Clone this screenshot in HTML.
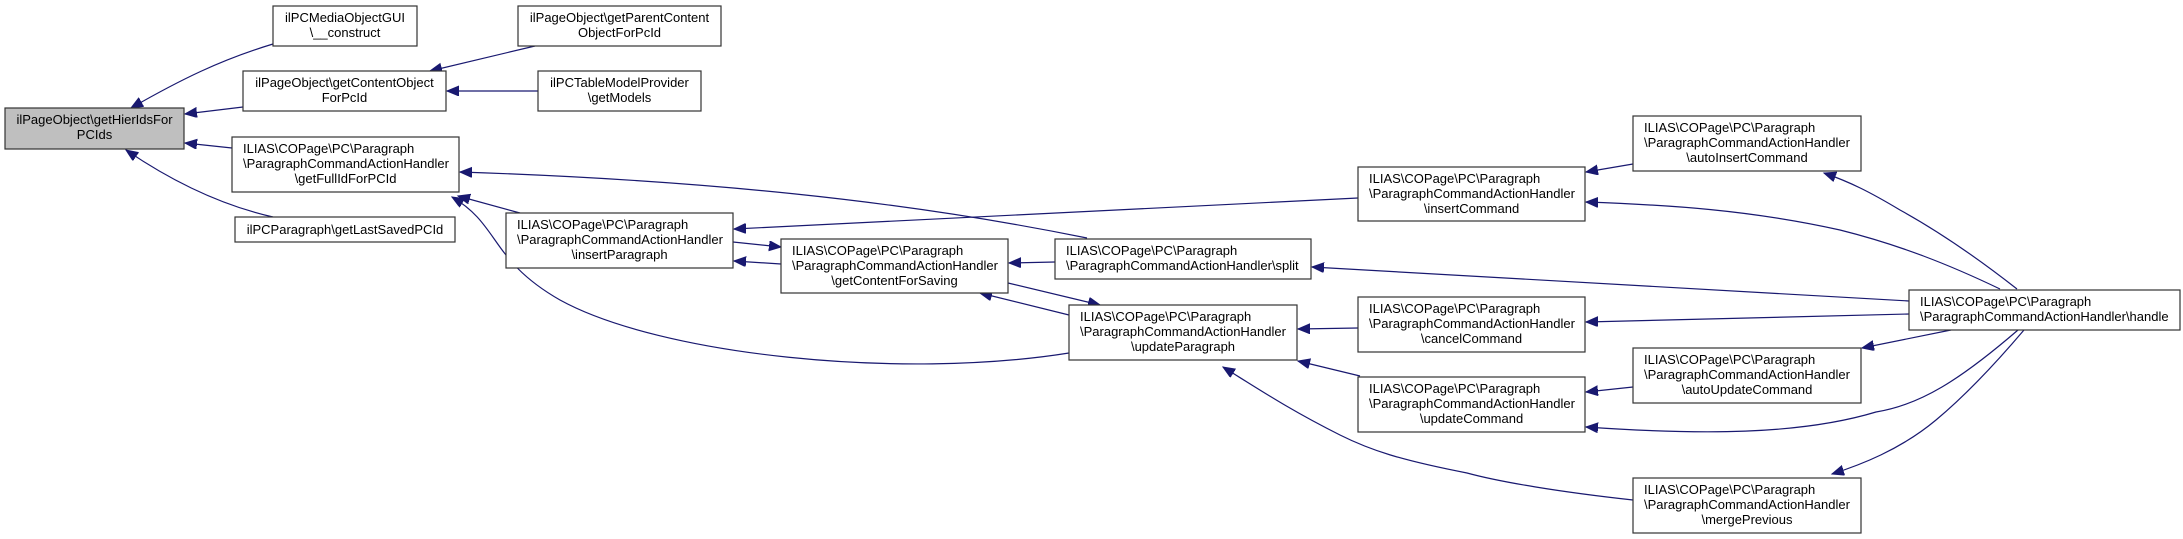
<!DOCTYPE html>
<html><head><meta charset="utf-8"><style>
html,body{margin:0;padding:0;background:#fff;}
svg{display:block;}
text{font-family:"Liberation Sans",Arial,sans-serif;font-size:13px;fill:#000;}
.b{fill:#fff;stroke:#333;stroke-width:1.2;}
.e{fill:none;stroke:#191970;stroke-width:1.2;}
</style></head><body>
<svg width="2183" height="539" viewBox="0 0 2183 539" xmlns="http://www.w3.org/2000/svg">
<defs>
<marker id="a" markerUnits="userSpaceOnUse" markerWidth="14" markerHeight="12" refX="12" refY="5" orient="auto">
<path d="M0,0 L12,5 L0,10 Z" fill="#191970" stroke="#191970"/>
</marker>
</defs>
<g class="edges">
<path class="e" marker-end="url(#a)" d="M273,44 C220,60 180,80 131,108"/>
<path class="e" marker-end="url(#a)" d="M243,107 L185,114"/>
<path class="e" marker-end="url(#a)" d="M232,148 L185,143"/>
<path class="e" marker-end="url(#a)" d="M273,217 C220,205 170,180 126,150"/>
<path class="e" marker-end="url(#a)" d="M535,46 L430,71"/>
<path class="e" marker-end="url(#a)" d="M538,91 L447,91"/>
<path class="e" marker-end="url(#a)" d="M520,213 L458,196"/>
<path class="e" marker-end="url(#a)" d="M1087,238 C900,200 700,180 460,172"/>
<path class="e" marker-end="url(#a)" d="M1069,353 C900,380 660,355 560,300 C490,260 500,225 452,197"/>
<path class="e" marker-end="url(#a)" d="M1358,198 L734,229"/>
<path class="e" marker-end="url(#a)" d="M733,242 L781,247"/>
<path class="e" marker-end="url(#a)" d="M781,264 L734,261"/>
<path class="e" marker-end="url(#a)" d="M1055,262 L1009,263"/>
<path class="e" marker-end="url(#a)" d="M1008,283 L1100,305"/>
<path class="e" marker-end="url(#a)" d="M1069,315 L980,293"/>
<path class="e" marker-end="url(#a)" d="M1633,164 L1586,172"/>
<path class="e" marker-end="url(#a)" d="M2000,289 C1950,265 1900,245 1840,230 C1750,210 1670,205 1586,202"/>
<path class="e" marker-end="url(#a)" d="M2017,289 C1980,260 1940,232 1900,210 C1870,192 1850,182 1824,173"/>
<path class="e" marker-end="url(#a)" d="M1909,301 L1312,267"/>
<path class="e" marker-end="url(#a)" d="M1909,314 L1586,322"/>
<path class="e" marker-end="url(#a)" d="M1951,330 L1862,348"/>
<path class="e" marker-end="url(#a)" d="M1633,387 L1586,392"/>
<path class="e" marker-end="url(#a)" d="M2018,330 C1960,380 1920,405 1876,412 C1800,435 1700,435 1586,427"/>
<path class="e" marker-end="url(#a)" d="M2024,330 C1990,370 1960,400 1936,420 C1900,450 1860,465 1832,474"/>
<path class="e" marker-end="url(#a)" d="M1358,328 L1298,329"/>
<path class="e" marker-end="url(#a)" d="M1360,376 L1298,361"/>
<path class="e" marker-end="url(#a)" d="M1633,500 C1560,492 1500,482 1467,473 C1400,460 1370,450 1340,435 C1290,410 1260,390 1223,367"/>
</g>
<g>
<rect x="5" y="108" width="179" height="41" fill="#bfbfbf" stroke="#333" stroke-width="1.2"/>
<text x="94.5" y="124" text-anchor="middle">ilPageObject\getHierIdsFor</text>
<text x="94.5" y="139" text-anchor="middle">PCIds</text>

<rect class="b" x="273" y="6" width="144" height="40"/>
<text x="345" y="22" text-anchor="middle">ilPCMediaObjectGUI</text>
<text x="345" y="37" text-anchor="middle">\__construct</text>

<rect class="b" x="243" y="71" width="203" height="40"/>
<text x="344.5" y="87" text-anchor="middle">ilPageObject\getContentObject</text>
<text x="344.5" y="102" text-anchor="middle">ForPcId</text>

<rect class="b" x="232" y="137" width="227" height="55"/>
<text x="243" y="153">ILIAS\COPage\PC\Paragraph</text>
<text x="243" y="168">\ParagraphCommandActionHandler</text>
<text x="345.5" y="183" text-anchor="middle">\getFullIdForPCId</text>

<rect class="b" x="235" y="217" width="220" height="25"/>
<text x="345" y="234" text-anchor="middle">ilPCParagraph\getLastSavedPCId</text>

<rect class="b" x="518" y="6" width="203" height="40"/>
<text x="619.5" y="22" text-anchor="middle">ilPageObject\getParentContent</text>
<text x="619.5" y="37" text-anchor="middle">ObjectForPcId</text>

<rect class="b" x="538" y="71" width="163" height="40"/>
<text x="619.5" y="87" text-anchor="middle">ilPCTableModelProvider</text>
<text x="619.5" y="102" text-anchor="middle">\getModels</text>

<rect class="b" x="506" y="213" width="227" height="55"/>
<text x="517" y="229">ILIAS\COPage\PC\Paragraph</text>
<text x="517" y="244">\ParagraphCommandActionHandler</text>
<text x="619.5" y="259" text-anchor="middle">\insertParagraph</text>

<rect class="b" x="781" y="239" width="227" height="54"/>
<text x="792" y="255">ILIAS\COPage\PC\Paragraph</text>
<text x="792" y="270">\ParagraphCommandActionHandler</text>
<text x="894.5" y="285" text-anchor="middle">\getContentForSaving</text>

<rect class="b" x="1055" y="239" width="256" height="40"/>
<text x="1066" y="255">ILIAS\COPage\PC\Paragraph</text>
<text x="1066" y="270">\ParagraphCommandActionHandler\split</text>

<rect class="b" x="1069" y="305" width="228" height="55"/>
<text x="1080" y="321">ILIAS\COPage\PC\Paragraph</text>
<text x="1080" y="336">\ParagraphCommandActionHandler</text>
<text x="1183" y="351" text-anchor="middle">\updateParagraph</text>

<rect class="b" x="1358" y="167" width="227" height="54"/>
<text x="1369" y="183">ILIAS\COPage\PC\Paragraph</text>
<text x="1369" y="198">\ParagraphCommandActionHandler</text>
<text x="1471.5" y="213" text-anchor="middle">\insertCommand</text>

<rect class="b" x="1358" y="297" width="227" height="55"/>
<text x="1369" y="313">ILIAS\COPage\PC\Paragraph</text>
<text x="1369" y="328">\ParagraphCommandActionHandler</text>
<text x="1471.5" y="343" text-anchor="middle">\cancelCommand</text>

<rect class="b" x="1358" y="377" width="227" height="55"/>
<text x="1369" y="393">ILIAS\COPage\PC\Paragraph</text>
<text x="1369" y="408">\ParagraphCommandActionHandler</text>
<text x="1471.5" y="423" text-anchor="middle">\updateCommand</text>

<rect class="b" x="1633" y="116" width="228" height="55"/>
<text x="1644" y="132">ILIAS\COPage\PC\Paragraph</text>
<text x="1644" y="147">\ParagraphCommandActionHandler</text>
<text x="1747" y="162" text-anchor="middle">\autoInsertCommand</text>

<rect class="b" x="1633" y="348" width="228" height="55"/>
<text x="1644" y="364">ILIAS\COPage\PC\Paragraph</text>
<text x="1644" y="379">\ParagraphCommandActionHandler</text>
<text x="1747" y="394" text-anchor="middle">\autoUpdateCommand</text>

<rect class="b" x="1633" y="478" width="228" height="55"/>
<text x="1644" y="494">ILIAS\COPage\PC\Paragraph</text>
<text x="1644" y="509">\ParagraphCommandActionHandler</text>
<text x="1747" y="524" text-anchor="middle">\mergePrevious</text>

<rect class="b" x="1909" y="290" width="271" height="40"/>
<text x="1920" y="306">ILIAS\COPage\PC\Paragraph</text>
<text x="1920" y="321">\ParagraphCommandActionHandler\handle</text>
</g>
</svg>
</body></html>
